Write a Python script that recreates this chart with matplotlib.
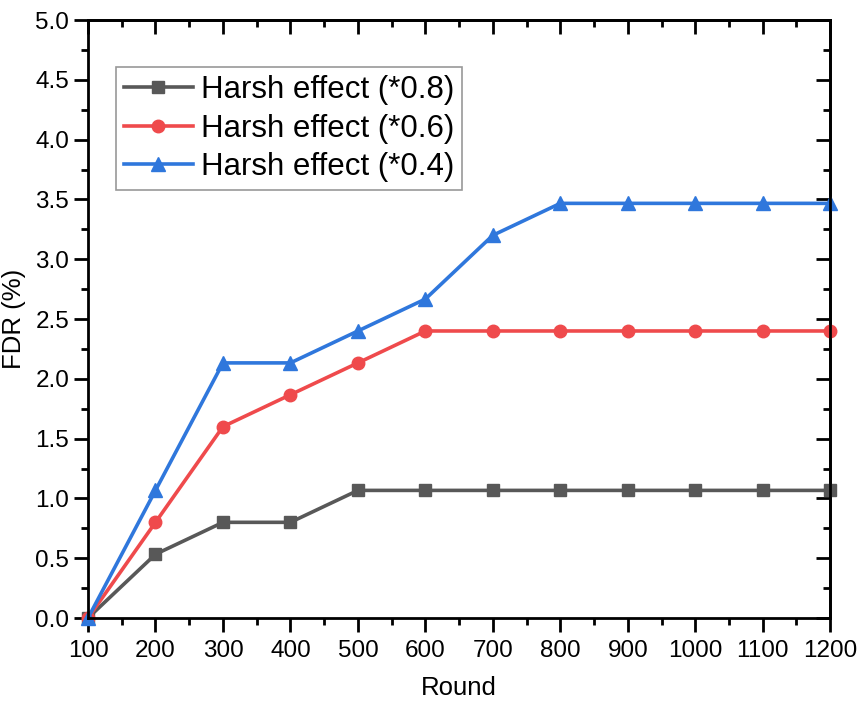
import matplotlib
matplotlib.use("Agg")
import matplotlib.pyplot as plt
from matplotlib.ticker import MultipleLocator

plt.rcParams['font.family'] = ['Liberation Sans', 'DejaVu Sans']

rounds = [100, 200, 300, 400, 500, 600, 700, 800, 900, 1000, 1100, 1200]
fdr_08 = [0, 0.533, 0.8, 0.8, 1.067, 1.067, 1.067, 1.067, 1.067, 1.067, 1.067, 1.067]
fdr_06 = [0, 0.8, 1.6, 1.867, 2.133, 2.4, 2.4, 2.4, 2.4, 2.4, 2.4, 2.4]
fdr_04 = [0, 1.067, 2.133, 2.133, 2.4, 2.667, 3.2, 3.467, 3.467, 3.467, 3.467, 3.467]
labels = ["Harsh effect (*0.8)", "Harsh effect (*0.6)", "Harsh effect (*0.4)"]

fig = plt.figure(figsize=(8.63, 7.05), dpi=100)
ax = fig.add_axes([0.102, 0.1234, 0.860, 0.8482])

ax.plot(rounds, fdr_08, color='#585858', lw=2.6, marker='s', ms=8, label=labels[0], clip_on=False)
ax.plot(rounds, fdr_06, color='#ef4a4c', lw=2.6, marker='o', ms=9, label=labels[1], clip_on=False)
ax.plot(rounds, fdr_04, color='#2f77dc', lw=2.6, marker='^', ms=10, label=labels[2], clip_on=False)

ax.set_xlim(100, 1200)
ax.set_ylim(0, 5.0)
ax.xaxis.set_major_locator(MultipleLocator(100))
ax.xaxis.set_minor_locator(MultipleLocator(50))
ax.yaxis.set_major_locator(MultipleLocator(0.5))
ax.yaxis.set_minor_locator(MultipleLocator(0.25))
ax.yaxis.set_major_formatter(matplotlib.ticker.FormatStrFormatter('%.1f'))

for s in ax.spines.values():
    s.set_linewidth(2)

ax.tick_params(axis='both', which='major', length=10, width=2, direction='out', labelsize=17.5)
ax.tick_params(axis='both', which='minor', length=5, width=2, direction='out')
ax.tick_params(axis='x', pad=6)

ax.set_xlabel("Round", fontsize=18.5, labelpad=10)
ax.set_ylabel("FDR (%)", fontsize=18.5, labelpad=7)

ax2 = ax.secondary_xaxis('top')
ax2.set_xticks(rounds)
ax2.xaxis.set_minor_locator(MultipleLocator(50))
ax2.tick_params(which='major', direction='in', length=10, width=2, labeltop=False)
ax2.tick_params(which='minor', direction='in', length=5, width=2)
ax2.spines['top'].set_linewidth(2)
ay2 = ax.secondary_yaxis('right')
ay2.yaxis.set_major_locator(MultipleLocator(0.5))
ay2.yaxis.set_minor_locator(MultipleLocator(0.25))
ay2.tick_params(which='major', direction='in', length=10, width=2, labelright=False)
ay2.tick_params(which='minor', direction='in', length=5, width=2)
ay2.spines['right'].set_linewidth(2)

leg = ax.legend(loc='upper left', bbox_to_anchor=(0.038, 0.921), fontsize=22.5,
                frameon=True, fancybox=False, edgecolor='#7f7f7f', handlelength=2.2,
                handletextpad=0.25, borderpad=0.25, labelspacing=0.27, borderaxespad=0)
leg.get_frame().set_linewidth(1.2)

fig.savefig("out.png", dpi=100)
